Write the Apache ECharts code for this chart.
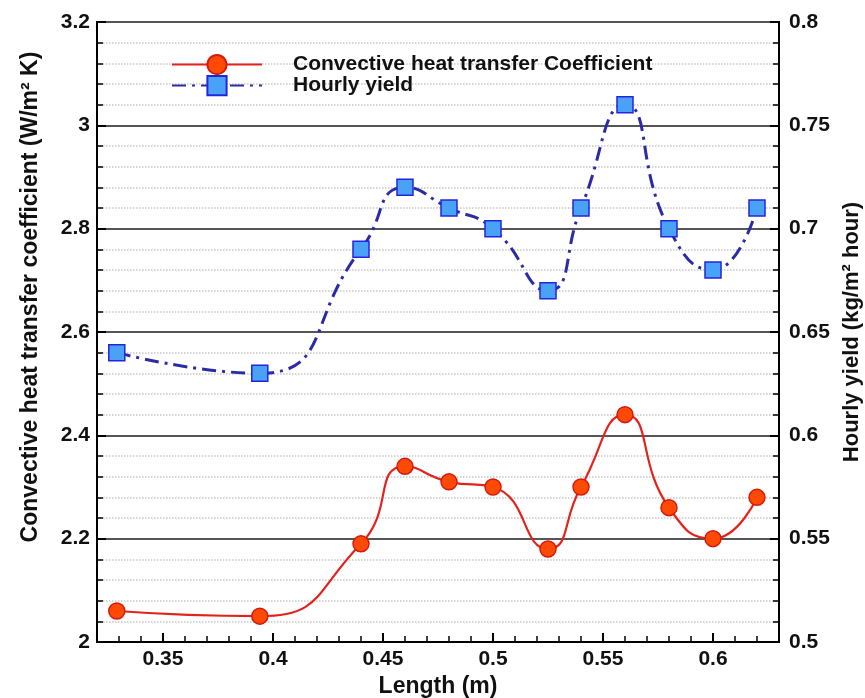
<!DOCTYPE html>
<html>
<head>
<meta charset="utf-8">
<script src="https://cdn.jsdelivr.net/npm/echarts@6/dist/echarts.min.js"></script>
<style>
	html, body { margin: 0; padding: 0; background: #fff; }
	#chart { width: 865px; height: 698px; }
</style>
</head>
<body>
<div id="chart"></div>
<script>
// values
var lengthM = [0.329, 0.394, 0.44, 0.46, 0.48, 0.5, 0.525, 0.54, 0.56, 0.58, 0.6, 0.62];
var heatCoef = [2.06, 2.05, 2.19, 2.34, 2.31, 2.30, 2.18, 2.30, 2.44, 2.26, 2.20, 2.28];
var hourlyYield = [0.64, 0.63, 0.69, 0.72, 0.71, 0.70, 0.67, 0.71, 0.76, 0.70, 0.68, 0.71];
var xTicks = [0.35, 0.4, 0.45, 0.5, 0.55, 0.6];
var xMinorTicks = [0.33, 0.34, 0.36, 0.37, 0.38, 0.39, 0.41, 0.42, 0.43, 0.44, 0.46, 0.47, 0.48, 0.49,
	0.51, 0.52, 0.53, 0.54, 0.56, 0.57, 0.58, 0.59, 0.61, 0.62];

var FONT = 'Liberation Sans';

function pairs(xs, ys) {
	var out = [];
	for (var i = 0; i < xs.length; i++) {
		out.push([xs[i], ys[i]]);
	}
	return out;
}

var chart = echarts.init(document.getElementById('chart'));

var labelStyle = {
	fontFamily: FONT,
	fontWeight: 'bold',
	fontSize: 21,
	color: '#111'
};
var nameStyle = {
	fontFamily: FONT,
	fontWeight: 'bold',
	fontSize: 23,
	color: '#111'
};
var legendText = {
	fontFamily: FONT,
	fontWeight: 'bold',
	fontSize: 21,
	color: '#111',
	padding: [0, 0, 0, 26]
};

chart.setOption({
	animation: false,
	grid: {
		left: 97, right: 86, top: 22, bottom: 56,
		outerBoundsMode: 'none',
		containLabel: false,
		show: true,
		borderColor: '#000',
		borderWidth: 2
	},
	legend: [
		{
			left: 166, top: 49,
			itemWidth: 90, itemHeight: 24,
			textStyle: legendText,
			data: ['Convective heat transfer Coefficient']
		},
		{
			left: 166, top: 70,
			itemWidth: 90, itemHeight: 24,
			textStyle: legendText,
			data: ['Hourly yield']
		}
	],
	xAxis: [
		{
			type: 'value',
			min: 0.32,
			max: 0.63,
			name: 'Length (m)',
			nameLocation: 'middle',
			nameGap: 30,
			nameTextStyle: nameStyle,
			axisLine: { show: true, lineStyle: { color: '#000', width: 2 } },
			axisTick: { show: true, inside: true, length: 9, customValues: xTicks, lineStyle: { color: '#000', width: 2 } },
			axisLabel: Object.assign({ margin: 7, customValues: xTicks }, labelStyle),
			splitLine: { show: false }
		},
		{
			type: 'value',
			min: 0.32,
			max: 0.63,
			position: 'bottom',
			axisLine: { show: false },
			axisTick: { show: true, inside: true, length: 6, customValues: xMinorTicks, lineStyle: { color: '#000', width: 1.5 } },
			axisLabel: { show: false },
			splitLine: { show: false }
		}
	],
	yAxis: [
		{
			type: 'value',
			min: 2,
			max: 3.2,
			interval: 0.2,
			position: 'left',
			name: 'Convective heat transfer coefficient (W/m\u00b2 K)',
			nameLocation: 'middle',
			nameRotate: 90,
			nameGap: 55,
			nameTextStyle: Object.assign({ padding: [0, 0, 0, 70] }, nameStyle),
			axisLine: { show: true, lineStyle: { color: '#000', width: 2 } },
			axisTick: { show: true, inside: true, length: 9, lineStyle: { color: '#000', width: 2 } },
			minorTick: { show: true, splitNumber: 5, length: 6, lineStyle: { color: '#000', width: 1.5 } },
			axisLabel: Object.assign({ margin: 7 }, labelStyle),
			splitLine: { show: true, lineStyle: { color: '#555', width: 2 } },
			minorSplitLine: { show: true, lineStyle: { color: '#c8c8c8', width: 1.5, type: 'dotted' } }
		},
		{
			type: 'value',
			min: 0.5,
			max: 0.8,
			interval: 0.05,
			position: 'right',
			name: 'Hourly yield (kg/m\u00b2 hour)',
			nameLocation: 'middle',
			nameRotate: 90,
			nameGap: 56,
			nameTextStyle: Object.assign({}, nameStyle, { fontSize: 22 }),
			axisLine: { show: true, lineStyle: { color: '#000', width: 2 } },
			axisTick: { show: true, inside: true, length: 9, lineStyle: { color: '#000', width: 2 } },
			minorTick: { show: true, splitNumber: 5, length: 6, lineStyle: { color: '#000', width: 1.5 } },
			axisLabel: Object.assign({ margin: 10 }, labelStyle),
			splitLine: { show: false }
		}
	],
	series: [
		{
			name: 'Convective heat transfer Coefficient',
			type: 'line',
			yAxisIndex: 0,
			smooth: 0.55,
			symbol: 'circle',
			symbolSize: 16,
			lineStyle: { color: '#e3231b', width: 2.2 },
			itemStyle: { color: '#ff4a05', borderColor: '#d41a10', borderWidth: 1.5 },
			data: pairs(lengthM, heatCoef),
			z: 3
		},
		{
			name: 'Hourly yield',
			type: 'line',
			yAxisIndex: 1,
			smooth: 0.55,
			symbol: 'rect',
			symbolSize: 16,
			lineStyle: { color: '#2b2ba6', width: 3, type: [14, 6, 3, 6] },
			itemStyle: { color: '#4aa2f7', borderColor: '#2424e0', borderWidth: 1.5 },
			data: pairs(lengthM, hourlyYield),
			z: 3
		}
	]
});
</script>
</body>
</html>
